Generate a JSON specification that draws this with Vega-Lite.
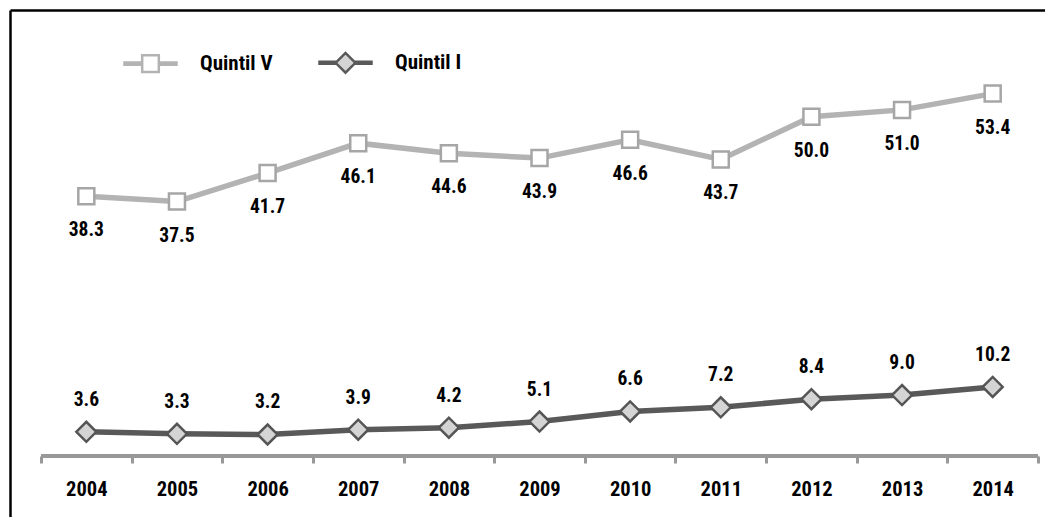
{
  "$schema": "https://vega.github.io/schema/vega-lite/v6.json",
  "width": 1035,
  "height": 507,
  "autosize": {"type": "none"},
  "padding": {"left": 10, "top": 10, "right": 0, "bottom": 0},
  "background": "white",
  "config": {
    "view": {"stroke": null},
    "font": "Liberation Sans Narrow, Arial Narrow, Roboto Condensed, DejaVu Sans Condensed, sans-serif"
  },
  "resolve": {"axis": {"x": "independent"}},
  "data": {
    "values": [
      {"year": "2004", "series": "Quintil V", "value": 38.3},
      {"year": "2005", "series": "Quintil V", "value": 37.5},
      {"year": "2006", "series": "Quintil V", "value": 41.7},
      {"year": "2007", "series": "Quintil V", "value": 46.1},
      {"year": "2008", "series": "Quintil V", "value": 44.6},
      {"year": "2009", "series": "Quintil V", "value": 43.9},
      {"year": "2010", "series": "Quintil V", "value": 46.6},
      {"year": "2011", "series": "Quintil V", "value": 43.7},
      {"year": "2012", "series": "Quintil V", "value": 50.0},
      {"year": "2013", "series": "Quintil V", "value": 51.0},
      {"year": "2014", "series": "Quintil V", "value": 53.4},
      {"year": "2004", "series": "Quintil I", "value": 3.6},
      {"year": "2005", "series": "Quintil I", "value": 3.3},
      {"year": "2006", "series": "Quintil I", "value": 3.2},
      {"year": "2007", "series": "Quintil I", "value": 3.9},
      {"year": "2008", "series": "Quintil I", "value": 4.2},
      {"year": "2009", "series": "Quintil I", "value": 5.1},
      {"year": "2010", "series": "Quintil I", "value": 6.6},
      {"year": "2011", "series": "Quintil I", "value": 7.2},
      {"year": "2012", "series": "Quintil I", "value": 8.4},
      {"year": "2013", "series": "Quintil I", "value": 9.0},
      {"year": "2014", "series": "Quintil I", "value": 10.2}
    ]
  },
  "encoding": {
    "x": {
      "field": "year",
      "type": "ordinal",
      "bandPosition": 0.5,
      "scale": {"type": "band", "paddingInner": 0, "paddingOuter": 0.2096, "align": 0.816},
      "axis": null
    },
    "y": {
      "field": "value",
      "type": "quantitative",
      "scale": {"domain": [-8.95, 65.71], "nice": false, "zero": false},
      "axis": {
        "orient": "left",
        "domain": true,
        "domainColor": "#000000",
        "domainWidth": 2.5,
        "ticks": false,
        "labels": false,
        "grid": false,
        "title": null
      }
    }
  },
  "layer": [
    {
      "mark": {"type": "rule", "color": "#999999", "strokeWidth": 3},
      "encoding": {
        "x": {
          "datum": "2004",
          "bandPosition": 0,
          "scale": {"type": "band", "paddingInner": 0, "paddingOuter": 0.2096, "align": 0.816},
          "axis": {
            "orient": "top",
            "domain": true,
            "domainColor": "#000000",
            "domainWidth": 2.5,
            "ticks": false,
            "labels": false,
            "grid": false,
            "title": null
          }
        },
        "x2": {"datum": "2014", "bandPosition": 1},
        "y": {"datum": 0}
      }
    },
    {
      "mark": {"type": "line", "strokeWidth": 5.5},
      "encoding": {
        "x": {
          "field": "year",
          "type": "ordinal",
          "bandPosition": 0.5,
          "scale": {"type": "band", "paddingInner": 0, "paddingOuter": 0.2096, "align": 0.816},
          "axis": {
            "orient": "bottom",
            "title": null,
            "domain": false,
            "tickBand": "extent",
            "tickColor": "#999999",
            "tickWidth": 3,
            "tickSize": 7,
            "labelAngle": 0,
            "labelFontSize": 20.5,
            "labelFontWeight": "bold",
            "labelColor": "#000000",
            "labelPadding": 16,
            "offset": -61,
            "grid": false
          }
        },
        "stroke": {
          "field": "series",
          "type": "nominal",
          "scale": {"domain": ["Quintil V", "Quintil I"], "range": ["#b3b3b3", "#595959"]},
          "legend": {
            "title": null,
            "orient": "none",
            "direction": "horizontal",
            "legendX": 113,
            "legendY": 25,
            "padding": 0,
            "symbolSize": 2704,
            "labelOffset": 22,
            "columnPadding": 41,
            "labelFontSize": 21,
            "labelFontWeight": "bold",
            "labelColor": "#000000",
            "encode": {
              "symbols": {
                "update": {
                  "shape": {"signal": "datum.value === 'Quintil V' ? 'M-1,-0.04H-0.33V0.04H-1ZM0.33,-0.04H1V0.04H0.33ZM-0.32,-0.32H0.32V0.32H-0.32Z' : 'M-1,-0.04H-0.38V0.04H-1ZM0.38,-0.04H1V0.04H0.38ZM-0.38,0L0,-0.38L0.38,0L0,0.38Z'"},
                  "fill": {"signal": "datum.value === 'Quintil V' ? '#ffffff' : '#d4d4d4'"},
                  "stroke": {"signal": "datum.value === 'Quintil V' ? '#a8a8a8' : '#555555'"},
                  "strokeWidth": {"value": 2.5},
                  "opacity": {"value": 1},
                  "fillOpacity": {"value": 1}
                }
              }
            }
          }
        },
        "detail": {"field": "series"}
      }
    },
    {
      "transform": [{"filter": "datum.series === 'Quintil V'"}],
      "mark": {"type": "point", "shape": "square", "size": 256, "filled": true, "fill": "#ffffff", "stroke": "#a6a6a6", "strokeWidth": 2.5, "opacity": 1}
    },
    {
      "transform": [{"filter": "datum.series === 'Quintil I'"}],
      "mark": {"type": "point", "shape": "diamond", "size": 400, "filled": true, "fill": "#d4d4d4", "stroke": "#555555", "strokeWidth": 2.5, "opacity": 1}
    },
    {
      "transform": [{"filter": "datum.series === 'Quintil V'"}],
      "mark": {"type": "text", "dy": 34, "baseline": "middle", "fontSize": 19.5, "fontWeight": "bold", "color": "#000000"},
      "encoding": {"text": {"field": "value", "type": "quantitative", "format": ".1f"}}
    },
    {
      "transform": [{"filter": "datum.series === 'Quintil I'"}],
      "mark": {"type": "text", "dy": -32, "baseline": "middle", "fontSize": 19.5, "fontWeight": "bold", "color": "#000000"},
      "encoding": {"text": {"field": "value", "type": "quantitative", "format": ".1f"}}
    }
  ]
}
